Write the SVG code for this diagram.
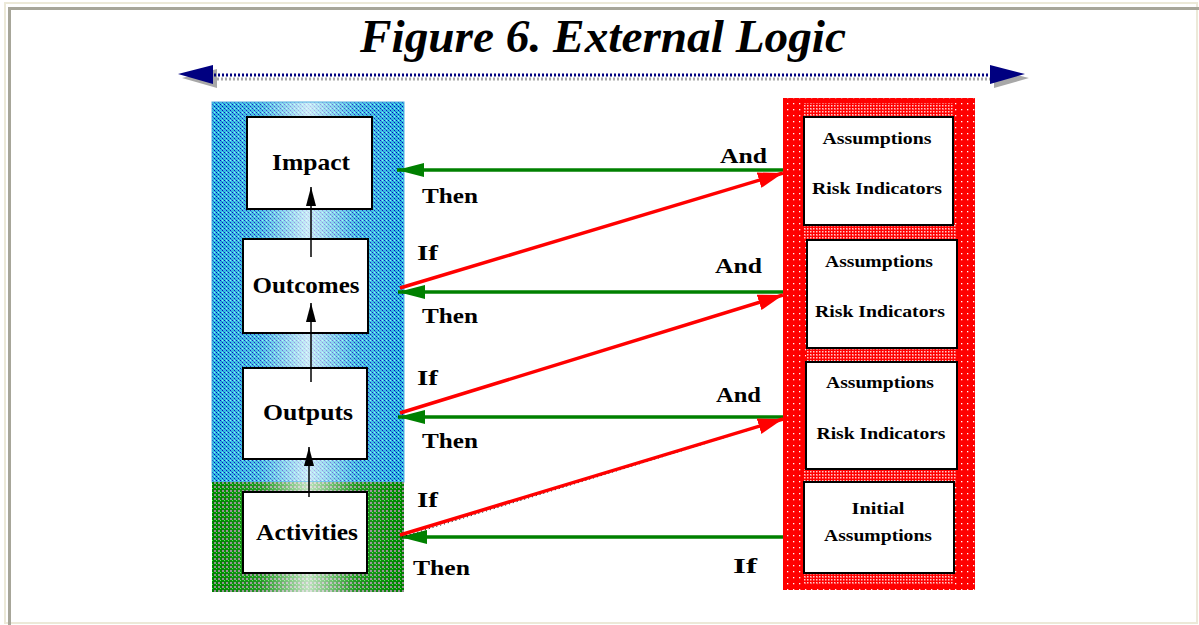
<svg xmlns="http://www.w3.org/2000/svg" width="1199" height="625" viewBox="0 0 1199 625">
<style>
.box{fill:#fff;stroke:#000;stroke-width:2}
.lbl{font-family:"Liberation Serif","Times New Roman",serif;font-weight:bold;fill:#000}
.big{font-size:23px}
.sm{font-size:17px}
.conn{font-size:22px}
.grn{stroke:#008000;stroke-width:3.5;fill:none}
.red{stroke:#ff0000;stroke-width:3.5;fill:none}
.up{stroke:#000;stroke-width:1.5;fill:none}
</style>
<defs>
<pattern id="pBlue" width="4" height="4" patternUnits="userSpaceOnUse">
<rect width="4" height="4" fill="#30bce0"/>
<rect x="0" y="0" width="1" height="1" fill="#0000c0"/>
<rect x="2" y="2" width="1" height="1" fill="#0000c0"/>
<rect x="1" y="1" width="1" height="1" fill="#1878d0"/>
<rect x="3" y="3" width="1" height="1" fill="#1878d0"/>
<rect x="2" y="0" width="1" height="1" fill="#80f0f8"/>
</pattern>
<pattern id="pGreen" width="4" height="4" patternUnits="userSpaceOnUse">
<rect width="4" height="4" fill="#008000"/>
<rect x="0" y="0" width="1" height="1" fill="#40ff40"/>
<rect x="2" y="2" width="2" height="2" fill="#909090"/>
</pattern>
<pattern id="pRed" width="6" height="6" patternUnits="userSpaceOnUse">
<rect width="6" height="6" fill="#ff0000"/>
<rect x="1" y="1" width="1.3" height="1.3" fill="#fff"/>
</pattern>
<pattern id="pRedGap" width="3" height="3" patternUnits="userSpaceOnUse">
<rect width="3" height="3" fill="#ff0000"/>
<rect x="0" y="0" width="1.5" height="1.5" fill="#fff"/>
</pattern>
<linearGradient id="gW" x1="0" y1="0" x2="1" y2="0">
<stop offset="0" stop-color="#fff" stop-opacity="0"/>
<stop offset="0.25" stop-color="#fff" stop-opacity="0.15"/>
<stop offset="0.5" stop-color="#fff" stop-opacity="0.75"/>
<stop offset="0.75" stop-color="#fff" stop-opacity="0.15"/>
<stop offset="1" stop-color="#fff" stop-opacity="0"/>
</linearGradient>
<marker id="mGreen" markerUnits="userSpaceOnUse" markerWidth="28" markerHeight="16" refX="27" refY="8" orient="auto">
<polygon points="0,1 27,8 0,15" fill="#008000"/>
</marker>
<marker id="mRed" markerUnits="userSpaceOnUse" markerWidth="26" markerHeight="18" refX="25" refY="9" orient="auto">
<polygon points="0,1 25,9 0,17" fill="#ff0000"/>
</marker>
<marker id="mBlack" markerUnits="userSpaceOnUse" markerWidth="20" markerHeight="12" refX="19" refY="6" orient="auto">
<polygon points="0,1 19,6 0,11" fill="#000"/>
</marker>
</defs>

<rect width="1199" height="625" fill="#fff"/>
<g id="frame">
<rect x="5" y="3" width="1192" height="620" fill="none" stroke="#ece9d8" stroke-width="2"/>
<polyline points="9.5,625 9.5,8.5 1199,8.5" fill="none" stroke="#a7a699" stroke-width="3"/>
</g>

<g id="title">
<text x="603" y="52" text-anchor="middle" font-family="'Liberation Serif','Times New Roman',serif" font-weight="bold" font-style="italic" font-size="46" textLength="486" lengthAdjust="spacingAndGlyphs">Figure 6. External Logic</text>
</g>

<g id="scale-arrow">
<line x1="213" y1="79" x2="990" y2="79" stroke="#a8a8a8" stroke-width="3" stroke-dasharray="2 2"/>
<polygon points="182,78 217,69 217,88" fill="#a8a8a8"/>
<polygon points="1029,78 994,69 994,88" fill="#a8a8a8"/>
<line x1="210" y1="75" x2="992" y2="75" stroke="#000080" stroke-width="3" stroke-dasharray="2 2"/>
<polygon points="178,74 213,65 213,84" fill="#000080"/>
<polygon points="1025,74 990,65 990,84" fill="#000080"/>
</g>

<g id="results-column">
<rect x="212" y="102" width="192" height="380" fill="url(#pBlue)"/>
<rect x="212" y="102" width="192" height="380" fill="url(#gW)"/>
<rect x="212" y="102" width="192" height="380" fill="none" stroke="#50b0e0" stroke-width="1"/>
</g>
<g id="activities-column">
<rect x="212" y="482" width="192" height="110" fill="url(#pGreen)"/>
<rect x="212" y="482" width="192" height="110" fill="url(#gW)"/>
</g>
<g id="assumptions-column">
<rect x="783" y="98" width="192" height="492" fill="url(#pRed)"/>
<rect x="804" y="103" width="150" height="14" fill="url(#pRedGap)" opacity="0.8"/>
<rect x="804" y="225" width="153" height="15" fill="url(#pRedGap)" opacity="0.8"/>
<rect x="806" y="348" width="151" height="14" fill="url(#pRedGap)" opacity="0.8"/>
<rect x="804" y="469" width="153" height="13" fill="url(#pRedGap)" opacity="0.8"/>
<rect x="804" y="573" width="150" height="12" fill="url(#pRedGap)" opacity="0.8"/>
</g>

<g id="impact">
<rect class="box" x="247" y="117" width="125" height="92"/>
<text class="lbl big" x="311" y="170" text-anchor="middle" textLength="78" lengthAdjust="spacingAndGlyphs">Impact</text>
</g>
<g id="outcomes">
<rect class="box" x="243" y="239" width="125" height="94"/>
<text class="lbl big" x="306" y="293" text-anchor="middle" textLength="107" lengthAdjust="spacingAndGlyphs">Outcomes</text>
</g>
<g id="outputs">
<rect class="box" x="243" y="368" width="124" height="91"/>
<text class="lbl big" x="308" y="420" text-anchor="middle" textLength="90" lengthAdjust="spacingAndGlyphs">Outputs</text>
</g>
<g id="activities">
<rect class="box" x="243" y="492" width="124" height="81"/>
<text class="lbl big" x="307" y="540" text-anchor="middle" textLength="102" lengthAdjust="spacingAndGlyphs">Activities</text>
</g>

<g id="assumptions-impact">
<rect class="box" x="804" y="117" width="149" height="108"/>
<text class="lbl sm" x="877" y="144" text-anchor="middle" textLength="109" lengthAdjust="spacingAndGlyphs">Assumptions</text>
<text class="lbl sm" x="877" y="194" text-anchor="middle" textLength="130" lengthAdjust="spacingAndGlyphs">Risk Indicators</text>
</g>
<g id="assumptions-outcomes">
<rect class="box" x="807" y="240" width="150" height="108"/>
<text class="lbl sm" x="879" y="267" text-anchor="middle" textLength="108" lengthAdjust="spacingAndGlyphs">Assumptions</text>
<text class="lbl sm" x="880" y="317" text-anchor="middle" textLength="130" lengthAdjust="spacingAndGlyphs">Risk Indicators</text>
</g>
<g id="assumptions-outputs">
<rect class="box" x="806" y="362" width="151" height="107"/>
<text class="lbl sm" x="880" y="388" text-anchor="middle" textLength="108" lengthAdjust="spacingAndGlyphs">Assumptions</text>
<text class="lbl sm" x="881" y="439" text-anchor="middle" textLength="129" lengthAdjust="spacingAndGlyphs">Risk Indicators</text>
</g>
<g id="initial-assumptions">
<rect class="box" x="804" y="482" width="150" height="91"/>
<text class="lbl sm" x="878" y="514" text-anchor="middle" textLength="53" lengthAdjust="spacingAndGlyphs">Initial</text>
<text class="lbl sm" x="878" y="541" text-anchor="middle" textLength="108" lengthAdjust="spacingAndGlyphs">Assumptions</text>
</g>

<g id="connectors">
<line class="up" x1="311" y1="257" x2="311" y2="187" marker-end="url(#mBlack)"/>
<line class="up" x1="311" y1="382" x2="311" y2="303" marker-end="url(#mBlack)"/>
<line class="up" x1="309" y1="497" x2="309" y2="447" marker-end="url(#mBlack)"/>

<line class="grn" x1="783" y1="170" x2="397" y2="170" marker-end="url(#mGreen)"/>
<line class="grn" x1="783" y1="292" x2="398" y2="292" marker-end="url(#mGreen)"/>
<line class="grn" x1="783" y1="417" x2="398" y2="417" marker-end="url(#mGreen)"/>
<line class="grn" x1="783" y1="537" x2="400" y2="537" marker-end="url(#mGreen)"/>

<line class="red" x1="400" y1="288" x2="783" y2="173" marker-end="url(#mRed)"/>
<line class="red" x1="400" y1="413" x2="783" y2="295" marker-end="url(#mRed)"/>
<line x1="402" y1="537" x2="762" y2="426" stroke="#000" stroke-width="1" stroke-dasharray="1 3"/>
<line class="red" x1="400" y1="535" x2="783" y2="419" marker-end="url(#mRed)"/>
</g>

<g id="connector-labels">
<text class="lbl conn" x="720" y="163" textLength="47" lengthAdjust="spacingAndGlyphs">And</text>
<text class="lbl conn" x="422" y="203" textLength="56" lengthAdjust="spacingAndGlyphs">Then</text>
<text class="lbl conn" x="417" y="260" textLength="21" lengthAdjust="spacingAndGlyphs">If</text>
<text class="lbl conn" x="715" y="273" textLength="47" lengthAdjust="spacingAndGlyphs">And</text>
<text class="lbl conn" x="422" y="323" textLength="56" lengthAdjust="spacingAndGlyphs">Then</text>
<text class="lbl conn" x="417" y="385" textLength="21" lengthAdjust="spacingAndGlyphs">If</text>
<text class="lbl conn" x="716" y="402" textLength="45" lengthAdjust="spacingAndGlyphs">And</text>
<text class="lbl conn" x="422" y="448" textLength="56" lengthAdjust="spacingAndGlyphs">Then</text>
<text class="lbl conn" x="417" y="507" textLength="21" lengthAdjust="spacingAndGlyphs">If</text>
<text class="lbl conn" x="413" y="575" textLength="57" lengthAdjust="spacingAndGlyphs">Then</text>
<text class="lbl conn" x="733" y="573" textLength="24" lengthAdjust="spacingAndGlyphs">If</text>
</g>
</svg>
